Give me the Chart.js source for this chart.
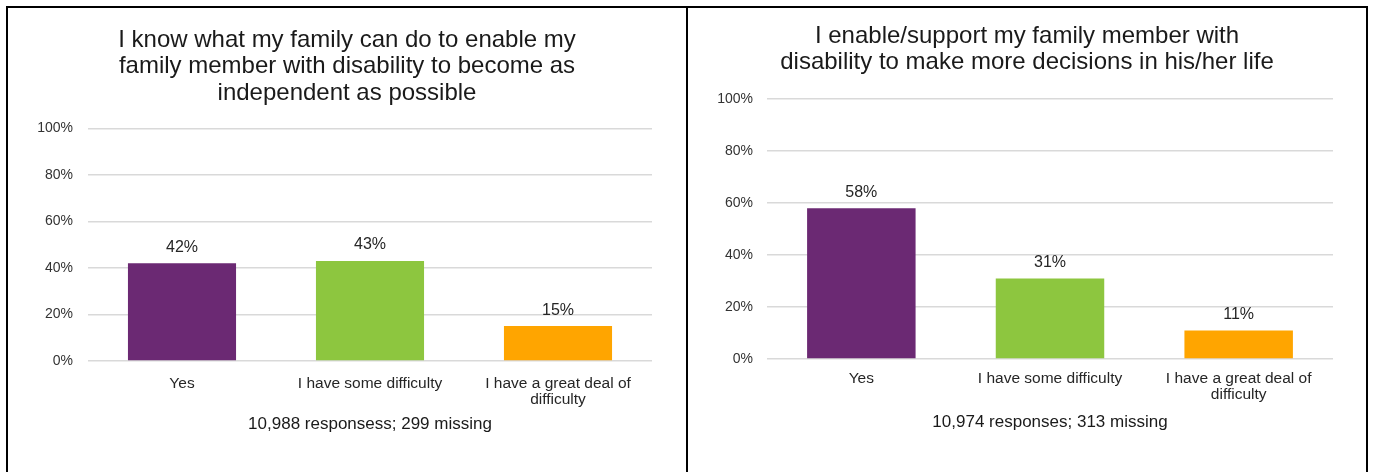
<!DOCTYPE html>
<html>
<head>
<meta charset="utf-8">
<script src="https://cdn.jsdelivr.net/npm/chart.js@4"></script>
<style>
  body { margin: 0; background: #fff; }
  #frame {
    position: absolute; left: 6px; top: 6px; width: 1358px; height: 470px;
    border: 2px solid #000; border-bottom: none;
  }
  #divider { position: absolute; left: 686px; top: 6px; width: 2px; height: 470px; background: #000; }
  canvas { position: absolute; top: 8px; }
  #chart-know { left: 8px; }
  #chart-enable { left: 688px; }
</style>
</head>
<body>
<div id="frame"></div>
<div id="divider"></div>
<canvas id="chart-know" width="678" height="464"></canvas>
<canvas id="chart-enable" width="678" height="464"></canvas>
<script>
const categories = ['Yes', 'I have some difficulty', ['I have a great deal of', 'difficulty']];
const knowValues = [42, 43, 15];
const enableValues = [58, 31, 11];
const yTicks = [0, 20, 40, 60, 80, 100];

const knowTitle = ['I know what my family can do to enable my', 'family member with disability to become as', 'independent as possible'];
const knowNote = '10,988 responsess; 299 missing';
const enableTitle = ['I enable/support my family member with', 'disability to make more decisions in his/her life'];
const enableNote = '10,974 responses; 313 missing';

const barColors = ['#6B2973', '#8DC63F', '#FFA500'];
const FONT = '"Liberation Sans", Arial, sans-serif';

// percentage label above each bar
const barLabels = {
    id: 'barLabels',
    afterDatasetsDraw(chart) {
        const ctx = chart.ctx;
        const meta = chart.getDatasetMeta(0);
        ctx.save();
        ctx.font = '16px ' + FONT;
        ctx.fillStyle = '#262626';
        ctx.textAlign = 'center';
        ctx.textBaseline = 'middle';
        meta.data.forEach((bar, i) => {
            ctx.fillText(chart.data.datasets[0].data[i] + '%', bar.x, bar.y - 16);
        });
        ctx.restore();
    }
};

function makeChart(id, values, title, note, lay) {
    return new Chart(document.getElementById(id), {
        type: 'bar',
        data: {
            labels: categories,
            datasets: [{
                data: values,
                backgroundColor: barColors,
                categoryPercentage: 1,
                barPercentage: 0.575
            }]
        },
        options: {
            responsive: false,
            animation: false,
            devicePixelRatio: 1,
            layout: { padding: 0 },
            plugins: {
                legend: { display: false },
                tooltip: { enabled: false },
                title: {
                    display: true,
                    text: title,
                    color: '#1a1a1a',
                    font: { family: FONT, size: 24, weight: 'normal', lineHeight: 1.104 },
                    padding: { top: lay.titleTop, bottom: lay.titleBottom }
                }
            },
            scales: {
                x: {
                    grid: { display: false },
                    border: { display: false },
                    ticks: {
                        color: '#262626',
                        padding: lay.xPad,
                        maxRotation: 0,
                        font: { family: FONT, size: 15.5, lineHeight: 1.03 }
                    },
                    // response count sits under the category labels
                    title: {
                        display: true,
                        text: note,
                        color: '#1a1a1a',
                        font: { family: FONT, size: 17, lineHeight: 1.2 },
                        padding: { top: 0, bottom: lay.noteBottom }
                    },
                    afterFit(scale) { scale.height = lay.xHeight; }
                },
                y: {
                    min: 0,
                    max: 100,
                    afterBuildTicks(scale) { scale.ticks = yTicks.map(v => ({ value: v })); },
                    grid: { color: '#d9d9d9', lineWidth: 1.5, drawTicks: false },
                    border: { display: false },
                    ticks: {
                        color: '#333',
                        padding: lay.yPad,
                        font: { family: FONT, size: 14 },
                        callback: v => v + '%'
                    },
                    afterFit(scale) { scale.width = lay.yWidth; }
                },
                // empty right-hand gutter; the title still spans the whole panel
                gutter: {
                    type: 'linear',
                    position: 'right',
                    grid: { display: false },
                    border: { display: false },
                    ticks: { display: false },
                    afterFit(scale) { scale.width = lay.gutter; }
                }
            }
        },
        plugins: [barLabels]
    });
}

makeChart('chart-know', knowValues, knowTitle, knowNote,
    { gutter: 34, titleTop: 19, titleBottom: 22, noteBottom: 37, xHeight: 111, xPad: 7, yPad: 15, yWidth: 80 });
makeChart('chart-enable', enableValues, enableTitle, enableNote,
    { gutter: 33, titleTop: 15, titleBottom: 23, noteBottom: 39, xHeight: 113, xPad: 4, yPad: 14, yWidth: 79 });
</script>
</body>
</html>
